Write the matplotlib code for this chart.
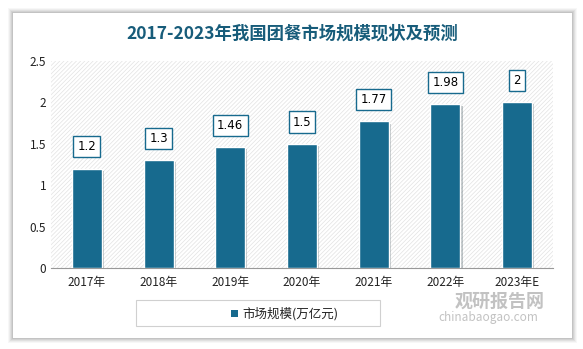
import matplotlib
matplotlib.use("Agg")
import matplotlib.pyplot as plt
from matplotlib.patches import Rectangle
import matplotlib.patheffects as pe

plt.rcParams['font.family'] = ['Noto Sans CJK SC', 'DejaVu Sans']
plt.rcParams['hatch.linewidth'] = 0.5

categories = ["2017年", "2018年", "2019年", "2020年", "2021年", "2022年", "2023年E"]
values = [1.2, 1.3, 1.46, 1.5, 1.77, 1.98, 2]
y_ticks = [0, 0.5, 1, 1.5, 2, 2.5]
y_tick_labels = ["0", "0.5", "1", "1.5", "2", "2.5"]
series_name = "市场规模(万亿元)"
title = "2017-2023年我国团餐市场规模现状及预测"

W, H = 583, 349
fig = plt.figure(figsize=(W / 100, H / 100), dpi=100)
fig.patch.set_facecolor("white")

# card with soft shadow
for i, a in enumerate([0.03, 0.04, 0.05, 0.06, 0.07]):
    d = 5 - i
    fig.patches.append(Rectangle(((13 - d) / W, 1 - (338 + d) / H),
                                 (559 + 2 * d) / W, (325 + 2 * d) / H,
                                 transform=fig.transFigure, facecolor="black",
                                 alpha=a, edgecolor="none", zorder=0))
fig.patches.append(Rectangle((13 / W, 1 - 338 / H), 559 / W, 325 / H,
                             transform=fig.transFigure, facecolor="white",
                             edgecolor="none", zorder=1))

fig.text(292 / W, 1 - 34 / H, title, ha="center", va="center",
         fontsize=12.5, fontweight="bold", color="#175c7a", zorder=3)

left, right, top, bottom = 51, 553, 61, 268
ax = fig.add_axes([left / W, 1 - bottom / H, (right - left) / W, (bottom - top) / H])
ax.set_zorder(2)
ax.set_facecolor("white")
ax.patch.set_hatch("////////")
ax.patch.set_edgecolor("#e2e2e2")
ax.patch.set_linewidth(0)

bar_color = "#176a8e"
x = range(len(categories))
bars = ax.bar(x, values, width=0.42, color=bar_color, edgecolor="white",
              linewidth=1.0, zorder=3)
for b in bars:
    b.set_path_effects([pe.SimplePatchShadow(offset=(1.5, -1.5), alpha=0.25),
                        pe.Normal()])

for xi, v in zip(x, values):
    ax.annotate(f"{v:g}", (xi, v), xytext=(0, 11), textcoords="offset points",
                ha="center", va="bottom", fontsize=8.5, color="black",
                family=["DejaVu Sans"],
                bbox=dict(boxstyle="square,pad=0.35", facecolor="white",
                          edgecolor=bar_color, linewidth=1.0), zorder=4)

ax.set_xlim(-0.5, len(categories) - 0.5)
ax.set_ylim(0, 2.5)
ax.set_yticks(y_ticks)
ax.set_yticklabels(y_tick_labels)
ax.set_xticks(list(x))
ax.set_xticklabels(categories)
ax.tick_params(length=0, labelsize=8.5, colors="#222222")
ax.tick_params(axis="x", pad=6)
for s in ["top", "right", "left"]:
    ax.spines[s].set_visible(False)
ax.spines["bottom"].set_color("#999999")

# legend
fig.patches.append(Rectangle((136 / W, 1 - 326 / H), 244 / W, 26 / H,
                             transform=fig.transFigure, facecolor="white",
                             edgecolor="#d0d0d0", linewidth=0.8, zorder=3))
fig.patches.append(Rectangle((231 / W, 1 - 317 / H), 7 / W, 7 / H,
                             transform=fig.transFigure, facecolor=bar_color,
                             edgecolor="none", zorder=4))
fig.text(242 / W, 1 - 313.5 / H, series_name, ha="left", va="center",
         fontsize=9, color="#222222", zorder=4)

# watermark
fig.text(455 / W, 1 - 301 / H, "观研报告网", ha="left", va="center",
         fontsize=13, fontweight="bold", color="#9a9a9a", alpha=0.6, zorder=5)
fig.text(438 / W, 1 - 317 / H, "chinabaogao.com", ha="left", va="center",
         fontsize=8.5, color="#9a9a9a", alpha=0.6, zorder=5)

fig.savefig("out.png", dpi=100)
